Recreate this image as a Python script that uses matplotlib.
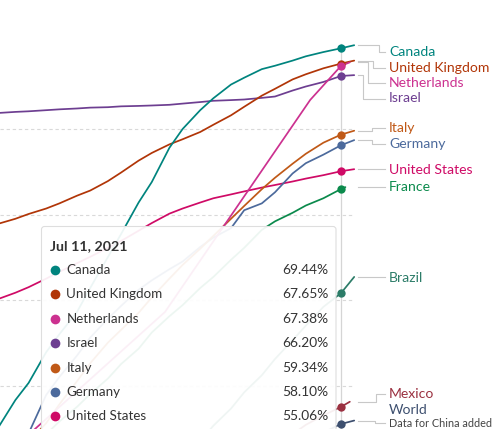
import matplotlib
matplotlib.use("Agg")
import matplotlib.pyplot as plt
import matplotlib.dates as mdates
from matplotlib.patches import FancyBboxPatch
import pandas as pd

plt.rcParams['font.family'] = ['Lato', 'DejaVu Sans']

# ---------------- data (share of people with at least one dose, %) ----------------
dates = ['2021-04-24', '2021-04-28', '2021-05-01', '2021-05-05', '2021-05-08', '2021-05-12',
         '2021-05-15', '2021-05-19', '2021-05-22', '2021-05-26', '2021-05-29', '2021-06-02',
         '2021-06-05', '2021-06-09', '2021-06-12', '2021-06-16', '2021-06-19', '2021-06-23',
         '2021-06-26', '2021-06-30', '2021-07-03', '2021-07-07', '2021-07-11', '2021-07-14']
canada = [25.0, 28.3, 30.3, 33.9, 36.0, 38.6, 41.4, 45.0, 47.7, 51.4, 53.8, 57.8,
          60.0, 62.2, 63.6, 65.2, 66.0, 67.0, 67.4, 68.0, 68.5, 69.0, 69.44, 69.8]
united_kingdom = [48.9, 49.5, 50.06, 50.7, 51.3, 52.2, 52.8, 53.9, 54.9, 56.3, 57.2, 58.2,
                  58.8, 59.65, 60.5, 61.6, 62.6, 63.9, 64.7, 65.8, 66.4, 67.1, 67.65, 68.0]
israel = [61.87, 62.0, 62.07, 62.2, 62.3, 62.4, 62.5, 62.55, 62.65, 62.7, 62.75, 62.83,
          62.97, 63.15, 63.3, 63.38, 63.45, 63.64, 63.8, 64.5, 64.97, 65.5, 66.2, 66.3]
italy = [20.5, 22.0, 23.4, 25.6, 27.8, 30.5, 32.6, 35.0, 36.5, 38.5, 40.3, 42.5,
         44.1, 46.0, 47.5, 49.5, 51.0, 52.96, 54.3, 55.94, 57.1, 58.4, 59.34, 59.8]
germany = [21.0, 23.0, 24.4, 28.9, 31.0, 33.5, 35.6, 37.8, 39.3, 41.2, 42.3, 43.6,
           44.5, 46.2, 47.3, 48.4, 50.5, 51.3, 52.6, 54.8, 56.0, 57.0, 58.10, 58.7]
united_states = [40.1, 40.85, 41.5, 42.5, 43.3, 44.3, 45.05, 46.1, 46.9, 48.1, 49.0, 50.1,
                 50.7, 51.4, 51.9, 52.35, 52.7, 53.15, 53.45, 53.86, 54.2, 54.6, 55.06, 55.3]
brazil = [13.5, 14.2, 15.0, 15.8, 16.5, 17.3, 18.0, 18.7, 19.5, 20.2, 20.8, 21.3,
          22.0, 23.5, 25.3, 27.3, 29.2, 31.2, 33.1, 35.3, 37.0, 39.2, 40.8, 42.7]
world = [8.0, 8.6, 9.2, 9.8, 10.5, 11.1, 11.8, 12.4, 13.0, 13.7, 14.5, 15.2,
         16.0, 16.9, 17.8, 18.7, 19.6, 20.5, 21.5, 22.4, 23.4, 24.5, 25.5, 25.9]

dates_france = dates[:-1] + ['2021-07-12']
france = [20.0, 21.5, 22.8, 24.3, 25.8, 27.5, 29.0, 30.8, 32.5, 34.3, 36.2, 38.1,
          39.4, 41.4, 42.7, 44.7, 46.1, 48.2, 49.2, 50.2, 51.05, 51.9, 52.98, 53.2]
dates_mexico = dates[:-1] + ['2021-07-13']
mexico = [10.0, 10.4, 10.8, 11.2, 11.5, 12.0, 12.5, 13.2, 14.0, 14.8, 15.7, 16.6,
          17.5, 18.4, 19.3, 20.3, 21.5, 22.4, 23.3, 24.3, 25.4, 26.5, 27.5, 28.1]

netherlands_dates = ['2021-04-24', '2021-06-01', '2021-07-04', '2021-07-11', '2021-07-13']
netherlands = [21.0, 38.6, 63.4, 67.38, 67.8]

hover_date = '2021-07-11'
hover_label = 'Jul 11, 2021'
gridline_values = [30, 40, 50, 60]
axis_max = 70

# ---------------- styling / layout ----------------
series = [
    # name, dates, values, color, label_y(px), elbow_x(px)
    ('World', dates, world, '#3d4f6f', 423, 375),
    ('Mexico', dates_mexico, mexico, '#9b3141', 394, 376),
    ('Brazil', dates, brazil, '#2c7c68', 278, None),
    ('France', dates_france, france, '#0b8a4c', 187, None),
    ('United States', dates, united_states, '#cf0a66', 170, None),
    ('Germany', dates, germany, '#4c6a9c', 144, 372),
    ('Italy', dates, italy, '#c05917', 128, 372),
    ('Israel', dates, israel, '#6d3e91', 98.5, 363),
    ('United Kingdom', dates, united_kingdom, '#b13507', 67.5, 373),
    ('Netherlands', netherlands_dates, netherlands, '#cc3190', 83, 368),
    ('Canada', dates, canada, '#00847e', 52, 379),
]

W, H = 502, 429
fig = plt.figure(figsize=(W / 100, H / 100), dpi=100)
fig.patch.set_facecolor('white')

ax = fig.add_axes([0, 0, 1, 1])
ax.axis('off')
hx = mdates.date2num(pd.Timestamp(hover_date))
px_per_day = 4.4
ax.set_xlim(hx - 341 / px_per_day, hx + (W - 341) / px_per_day)
ax.set_ylim(60 - 300 / 8.55, 60 + 129 / 8.55)

end_x = mdates.date2num(pd.Timestamp('2021-07-14'))
for g in gridline_values:
    ax.plot([ax.get_xlim()[0], end_x], [g, g], color='#d9d9d9', lw=0.8,
            ls=(0, (3, 2.5)), zorder=1)
ax.plot([hx, hx], [ax.get_ylim()[0], axis_max], color='#d5d5d5', lw=0.9, zorder=1.5)

for i, (name, d, v, c, ly, ex) in enumerate(series):
    x = mdates.date2num(pd.to_datetime(d))
    ax.plot(x, v, color=c, lw=1.25, zorder=2 + i * 0.01, solid_capstyle='round',
            solid_joinstyle='round')
    hv = v[list(d).index(hover_date)]
    ax.plot([hx], [hv], 'o', color=c, ms=6.0, mec='none', zorder=3 + i * 0.01)

# overlay in pixel coordinates
ov = fig.add_axes([0, 0, 1, 1])
ov.set_xlim(0, W)
ov.set_ylim(H, 0)
ov.axis('off')
ov.set_zorder(5)


def to_px_y(val):
    return H - ax.transData.transform((hx, val))[1]


for name, d, v, c, ly, ex in series:
    sy = to_px_y(v[-1])
    if ex is None:
        xs, ys = [358, 385], [sy, sy]
    else:
        xs, ys = [358, ex, ex, 385], [sy, sy, ly, ly]
    ov.plot(xs, ys, color='#c8c8c8', lw=0.8)
    if name == 'World':
        ov.text(389, 409.5, 'World', color=c, fontsize=10.1, va='center', ha='left')
        ov.text(389, 423.5, 'Data for China added', color='#444444', fontsize=7.8,
                va='center', ha='left')
    else:
        ov.text(389, ly, name, color=c, fontsize=10.1, va='center', ha='left')

# tooltip
box = FancyBboxPatch((41.5, 226.5), 294.5, 240, boxstyle='round,pad=0,rounding_size=3',
                     fc=(1, 1, 1, 0.93), ec='#dedede', lw=0.8, zorder=1)
ov.add_patch(box)
ov.text(50, 246, hover_label, fontsize=10.3, fontweight='bold', color='#333333',
        va='center', ha='left', zorder=3)
rows = []
for name, d, v, c, ly, ex in series:
    rows.append((v[list(d).index(hover_date)], name, c))
rows.sort(key=lambda r: -r[0])
for k, (val, name, c) in enumerate(rows):
    y = 270 + k * 24.4
    if y + 8 > H:
        break
    ov.plot([55.5], [y], 'o', color=c, ms=7.0, mec='none', zorder=3)
    ov.text(66.5, y, name, fontsize=9.6, color='#333333', va='center', ha='left', zorder=3)
    ov.text(328.5, y, f'{val:.2f}%', fontsize=9.9, color='#333333', va='center',
            ha='right', zorder=3)

fig.savefig('out.png', dpi=100, facecolor='white')
